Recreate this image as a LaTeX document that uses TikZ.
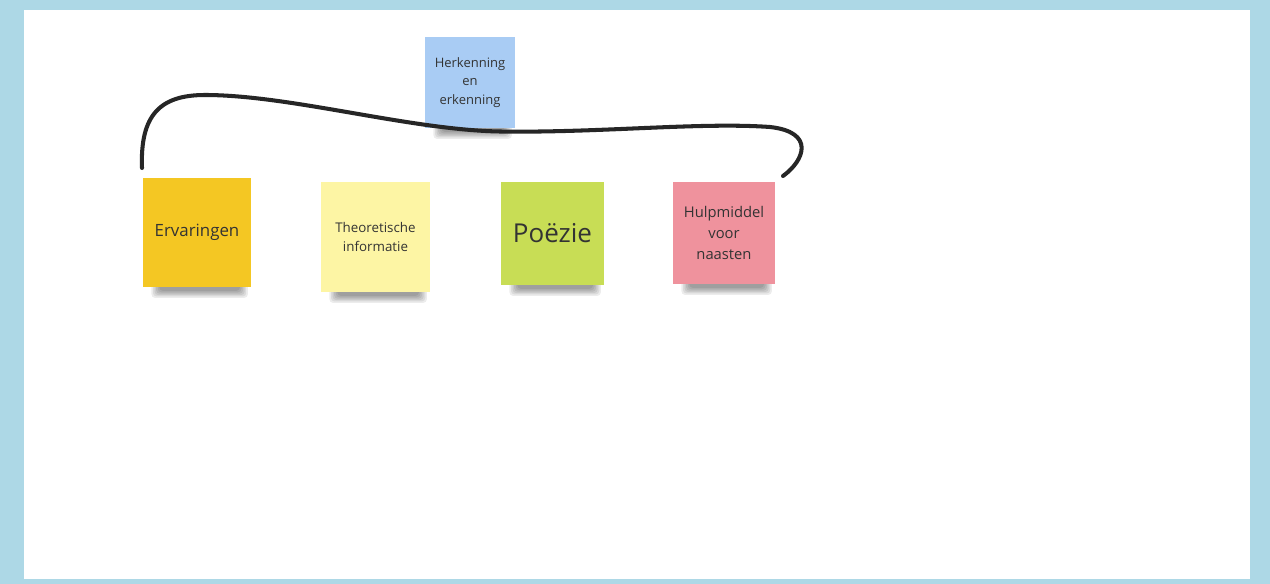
\documentclass[tikz,border=0pt]{standalone}
\usepackage{fontspec}
\setmainfont{Open Sans}

\definecolor{frameblue}{HTML}{ADD8E6}
\definecolor{noteblue}{HTML}{A9CCF4}
\definecolor{notegold}{HTML}{F4C723}
\definecolor{notelemon}{HTML}{FDF5A4}
\definecolor{notegreen}{HTML}{C8DD55}
\definecolor{notepink}{HTML}{EF929D}
\definecolor{inktext}{HTML}{333333}

\pgfdeclarelayer{board}
\pgfdeclarelayer{shade}
\pgfsetlayers{board,shade,main}

\tikzset{
  sticky/.style={draw=none, align=center, text=inktext, inner sep=2pt},
  shadeband/.style={fill=black, opacity=0.075, rounded corners=2pt},
  marker/.style={line width=2.3pt, color=black!85, line cap=round}
}

\begin{document}
\begin{tikzpicture}[x=0.02cm, y=-0.02cm]
    % frame
    \begin{pgfonlayer}{board}
    \fill[frameblue] (0,0) rectangle (1270,584);
    \fill[white] (24,10) rectangle (1250,579);
    \end{pgfonlayer}
    \useasboundingbox (0,0) rectangle (1270,584);

    % sticky notes
    \node[sticky, fill=noteblue, minimum width=1.8cm, minimum height=1.82cm,
      font=\fontsize{7.4}{10.5}\selectfont] (herk) at (470,82.5)
      {Herkenning\\en\\erkenning};
    \node[sticky, fill=notegold, minimum width=2.16cm, minimum height=2.18cm,
      font=\fontsize{9.6}{12}\selectfont] (erv) at (197,232.5) {Ervaringen};
    \node[sticky, fill=notelemon, minimum width=2.18cm, minimum height=2.2cm,
      font=\fontsize{7.6}{10.8}\selectfont] (theo) at (375.5,237)
      {Theoretische\\informatie};
    \node[sticky, fill=notegreen, minimum width=2.06cm, minimum height=2.06cm,
      font=\fontsize{14.8}{16}\selectfont] (poe) at (552.5,233.5) {Poëzie};
    \node[sticky, fill=notepink, minimum width=2.04cm, minimum height=2.04cm,
      font=\fontsize{8.4}{12.2}\selectfont] (hulp) at (724,233)
      {Hulpmiddel\\voor\\naasten};

    % shadows under the notes
    \begin{pgfonlayer}{shade}
    \foreach \n in {herk,erv,theo,poe,hulp}
      \foreach \k in {0,...,5}
        \fill[shadeband] ([xshift=5pt+\k*0.9pt, yshift=2pt]\n.south west)
          rectangle ([xshift=-2pt-\k*0.9pt, yshift=-6pt+\k*0.8pt]\n.south east);
    \end{pgfonlayer}

    % hand drawn line
    \coordinate (lineStart) at (142,168);
    \coordinate (lineEnd) at (783,176);
    \draw[marker] (lineStart) .. controls (140,115) and (160,95) .. (205,95)
      .. controls (290,95) and (410,130) .. (500,131.5)
      .. controls (600,133) and (700,122) .. (770,127)
      .. controls (815,132) and (805,160) .. (lineEnd);
\end{tikzpicture}
\end{document}
